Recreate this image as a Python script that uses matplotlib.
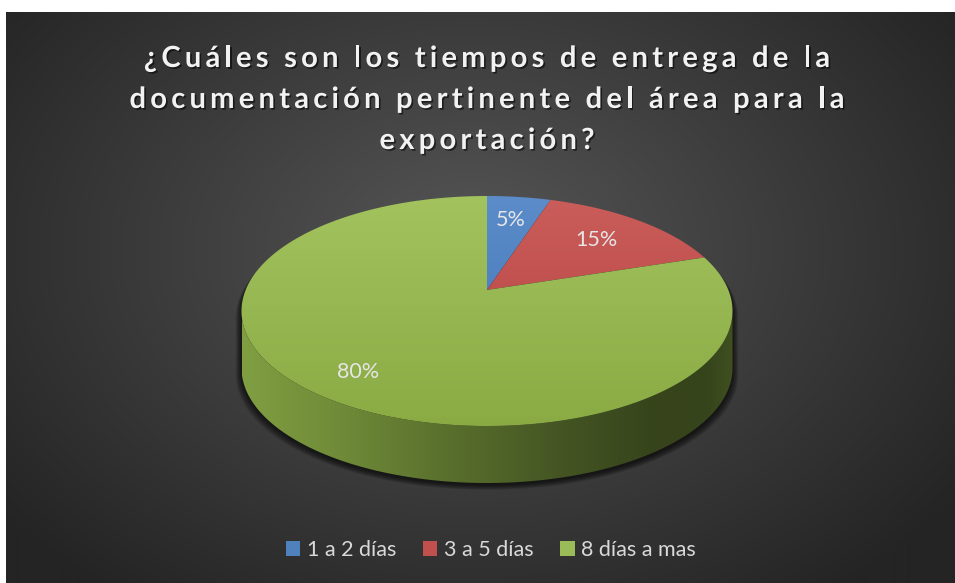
import numpy as np
import matplotlib
matplotlib.use('Agg')
import matplotlib.pyplot as plt
from matplotlib.patches import Polygon, Patch
from matplotlib.colors import LinearSegmentedColormap
import matplotlib.patheffects as pe
from matplotlib.font_manager import FontProperties, findfont, get_font

# ---------------- data ----------------
title_lines = ["¿Cuáles son los tiempos de entrega de la",
               "documentación pertinente del área para la",
               "exportación?"]
categories = ["1 a 2 días", "3 a 5 días", "8 días a mas"]
values = [5, 15, 80]
labels = ["5%", "15%", "80%"]
colors = ["#4F81BD", "#C0504D", "#9BBB59"]

# ---------------- figure ----------------
W, H = 955, 583
fig = plt.figure(figsize=(W / 100, H / 100), dpi=100)
fig.patch.set_facecolor('white')
ax = fig.add_axes([0, 0, 1, 1])

# background radial gradient
bx0, by0, bx1, by1 = 6, 12, 955, 583
yy, xx = np.mgrid[by0:by1, bx0:bx1]
d = np.sqrt(((xx - 470) / 600.0) ** 2 + ((yy - 250) / 430.0) ** 2)
d = np.clip(d, 0, 1)
c_in = np.array([86, 86, 86]) / 255.0
c_out = np.array([36, 36, 36]) / 255.0
bg = c_in[None, None, :] * (1 - d[..., None]) + c_out[None, None, :] * d[..., None]
ax.imshow(bg, extent=(bx0, bx1, by1, by0), aspect='auto', zorder=0, interpolation='bilinear')

# ---------------- perspective pie geometry ----------------
CX, CY, A, B = 487.0, 311.0, 245.5, 115.0
T = -0.183
CH = 1 / np.sqrt(1 - T * T)
SH = T * CH
DEPTH = 57.0


def proj(theta_deg, r=1.0, dz=0.0):
    th = np.radians(theta_deg)
    px = r * np.cos(th)
    py = -r * np.sin(th)
    yh = CH * py + SH
    w = SH * py + CH
    return CX + A * px / w, CY + B * yh / w + dz


total = float(sum(values))
starts = []
a = 90.0
for v in values:
    starts.append(a)
    a -= 360.0 * v / total

# silhouette angles (leftmost / rightmost points of the top ellipse)
ths = np.linspace(180, 360, 3601)
xs_, _ = proj(ths)
thL = ths[np.argmin(xs_)]
thR = ths[np.argmax(xs_)]

# shadow below the pie
back = np.linspace(thR - 360, thL, 300)
bxs, bys = proj(back)
fr = np.linspace(thL, thR, 300)
fxs, fys = proj(fr, dz=DEPTH)
sil_x = np.concatenate([bxs, fxs])
sil_y = np.concatenate([bys, fys])
for k in range(10, 0, -1):
    px = CX + (sil_x - CX) * (1 + k / 420.0)
    py = sil_y + 1.5 + k * 0.55
    ax.add_patch(Polygon(np.c_[px, py], closed=True, facecolor='black',
                         edgecolor='none', alpha=0.08, zorder=1))

# side wall with horizontal gradient
tx, ty = proj(fr)
side = np.c_[np.concatenate([tx, fxs[::-1]]), np.concatenate([ty, fys[::-1]])]
side_patch = Polygon(side, closed=True, facecolor='none', edgecolor='none', zorder=2)
ax.add_patch(side_patch)
stops = [(0.00, (128, 158, 66)), (0.18, (113, 141, 57)), (0.43, (88, 110, 44)),
         (0.65, (68, 85, 35)), (0.85, (54, 67, 27)), (0.95, (55, 69, 28)), (1.00, (64, 80, 32))]
side_cmap = LinearSegmentedColormap.from_list(
    'side', [(p, tuple(np.array(c) / 255.0)) for p, c in stops])
grad = np.linspace(0, 1, 256)[None, :]
im = ax.imshow(grad, cmap=side_cmap, extent=(CX - A, CX + A, CY + DEPTH + B + 5, CY - 10),
               aspect='auto', zorder=2, interpolation='bilinear')
im.set_clip_path(side_patch)

# top face slices with vertical gradient
shade = {
    "#4F81BD": ((92, 141, 202), (62, 112, 178)),
    "#C0504D": ((202, 94, 91), (180, 62, 59)),
    "#9BBB59": ((163, 195, 95), (138, 170, 68)),
}
apex = proj(0, r=0.0)
for i, v in enumerate(values):
    s0 = starts[i]
    s1 = s0 - 360.0 * v / total
    arc = np.linspace(s0, s1, max(20, int(abs(s1 - s0) * 3)))
    axs, ays = proj(arc)
    poly = np.c_[np.concatenate([[apex[0]], axs]), np.concatenate([[apex[1]], ays])]
    wp = Polygon(poly, closed=True, facecolor='none', edgecolor='none', zorder=3)
    ax.add_patch(wp)
    top_c, bot_c = shade[colors[i]]
    cm = LinearSegmentedColormap.from_list(
        'f%d' % i, [tuple(np.array(top_c) / 255.0), tuple(np.array(bot_c) / 255.0)])
    g = np.linspace(0, 1, 256)[:, None]
    im2 = ax.imshow(g, cmap=cm, extent=(CX - A - 2, CX + A + 2, CY + B + 2, CY - B - 2),
                    aspect='auto', zorder=3, interpolation='bilinear')
    im2.set_clip_path(wp)

# data labels
label_r = [0.72, 0.70, 0.80]
lab_fp = FontProperties(family='Lato', size=15.5)
for i, v in enumerate(values):
    mid = starts[i] - 180.0 * v / total
    lx, ly = proj(mid, r=label_r[i])
    ax.text(lx, ly, labels[i], fontproperties=lab_fp, color='#e6e6e6',
            ha='center', va='center', zorder=5)

ax.set_xlim(0, W)
ax.set_ylim(H, 0)
ax.axis('off')

# ---------------- title (letter-spaced) ----------------
TSIZE = 21
title_fp = FontProperties(family='Lato', weight='bold', size=TSIZE)
font = get_font(findfont(title_fp))
font.set_size(TSIZE, 100)


def adv(c):
    g = font.load_char(ord(c))
    return g.linearHoriAdvance / 65536.0


def nat_width(s):
    return sum(adv(c) for c in s)


target = 843 - 128
L2 = title_lines[1]
spacing = (target - nat_width(L2)) / (len(L2) - 1)
baselines = [67, 108, 149]
shadow = [pe.withSimplePatchShadow(offset=(1.2, -1.2), shadow_rgbFace='black', alpha=0.55)]
for line, bl in zip(title_lines, baselines):
    wtot = nat_width(line) + spacing * (len(line) - 1)
    x = 487 - wtot / 2.0
    for c in line:
        if c != ' ':
            ax.text(x, bl, c, fontproperties=title_fp, color='#f2f2f2',
                    ha='left', va='baseline', zorder=6, path_effects=shadow)
        x += adv(c) + spacing

# ---------------- legend ----------------
handles = [Patch(facecolor=c, edgecolor='none', label=l) for c, l in zip(colors, categories)]
leg = fig.legend(handles=handles, loc='center', ncol=3, frameon=False,
                 bbox_to_anchor=(491 / W, 1 - 550 / H),
                 prop=FontProperties(family='Lato', size=15.5),
                 handlelength=0.66, handleheight=0.66, handletextpad=0.3,
                 columnspacing=1.25, labelcolor='#d9d9d9')

fig.savefig('out.png', dpi=100, facecolor=fig.get_facecolor())
